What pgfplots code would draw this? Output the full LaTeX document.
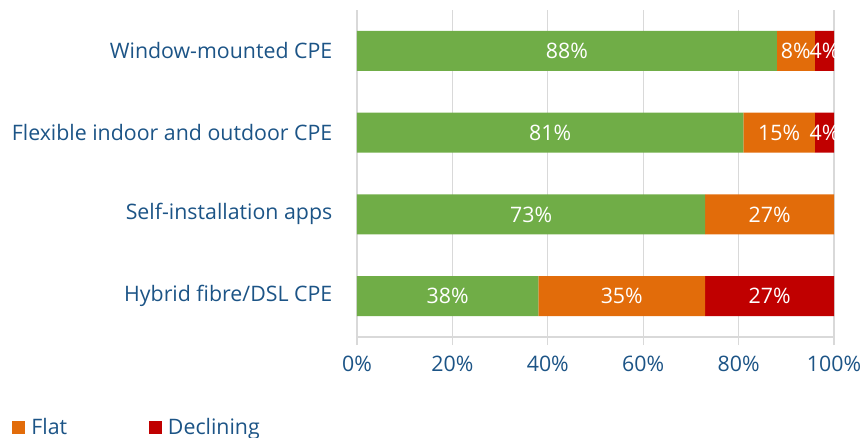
\documentclass[border=0pt]{standalone}
\usepackage{fontspec}
\setmainfont{Open Sans}
\usepackage{pgfplots}
\pgfplotsset{compat=1.18}

\definecolor{growing}{RGB}{112,173,71}
\definecolor{flat}{RGB}{226,108,10}
\definecolor{declining}{RGB}{192,0,0}
\definecolor{txt}{RGB}{28,84,134}
\definecolor{gridc}{RGB}{217,217,217}

\begin{document}
\fontsize{16pt}{19pt}\selectfont
\begin{tikzpicture}
\begin{axis}[
  at={(0,0)}, anchor=south west,
  scale only axis, width=357.75pt, height=245.25pt,
  xbar stacked, bar width=30pt,
  xmin=0, xmax=100, ymin=-0.5, ymax=3.5,
  enlargelimits=false,
  axis x line=bottom, axis y line=left,
  axis line style={draw=gridc, line width=1pt, -},
  xtick={0,20,...,100},
  xticklabels={0\%,20\%,40\%,60\%,80\%,100\%},
  ytick={0,1,2,3},
  yticklabels={Hybrid fibre/DSL CPE, Self-installation apps, Flexible indoor and outdoor CPE, Window-mounted CPE},
  minor ytick={-0.5,0.5,1.5,2.5,3.5},
  tick align=outside,
  major tick length=6pt, minor tick length=5pt,
  xtick style={draw=gridc, line width=1pt},
  ytick style={draw=none},
  minor tick style={draw=gridc, line width=1pt},
  xmajorgrids, grid style={draw=gridc, line width=1pt},
  tick label style={text=txt, font=\fontsize{16pt}{19pt}\selectfont},
  yticklabel style={xshift=-7pt},
  xticklabel style={yshift=-3pt},
  point meta=explicit symbolic,
  nodes near coords,
  every node near coord/.append style={text=white, anchor=center,
    font=\fontsize{16pt}{19pt}\selectfont},
  legend entries={,Flat,Declining},
  legend image code/.code={\fill[#1] (0pt,-4.9pt) rectangle (9.8pt,4.9pt);},
  legend style={draw=none, fill=none, at={(0,0)}, anchor=west,
    xshift=-262pt, yshift=-68pt, legend columns=-1,
    font=\fontsize{16pt}{19pt}\selectfont, text=txt,
    /tikz/every odd column/.append style={column sep=2.8pt},
    /tikz/every even column/.append style={column sep=59pt}},
]
\addplot[fill=growing, draw=none] coordinates {(38,0)[38\%] (73,1)[73\%] (81,2)[81\%] (88,3)[88\%]};
\addplot[fill=flat, draw=none] coordinates {(35,0)[35\%] (27,1)[27\%] (15,2)[15\%] (8,3)[8\%]};
\addplot[fill=declining, draw=none] coordinates {(27,0)[27\%] (0,1)[] (4,2)[4\%] (4,3)[4\%]};
\end{axis}
\pgfresetboundingbox
\useasboundingbox (-267.75pt,-75pt) rectangle (378.75pt,252.75pt);
\end{tikzpicture}
\end{document}
